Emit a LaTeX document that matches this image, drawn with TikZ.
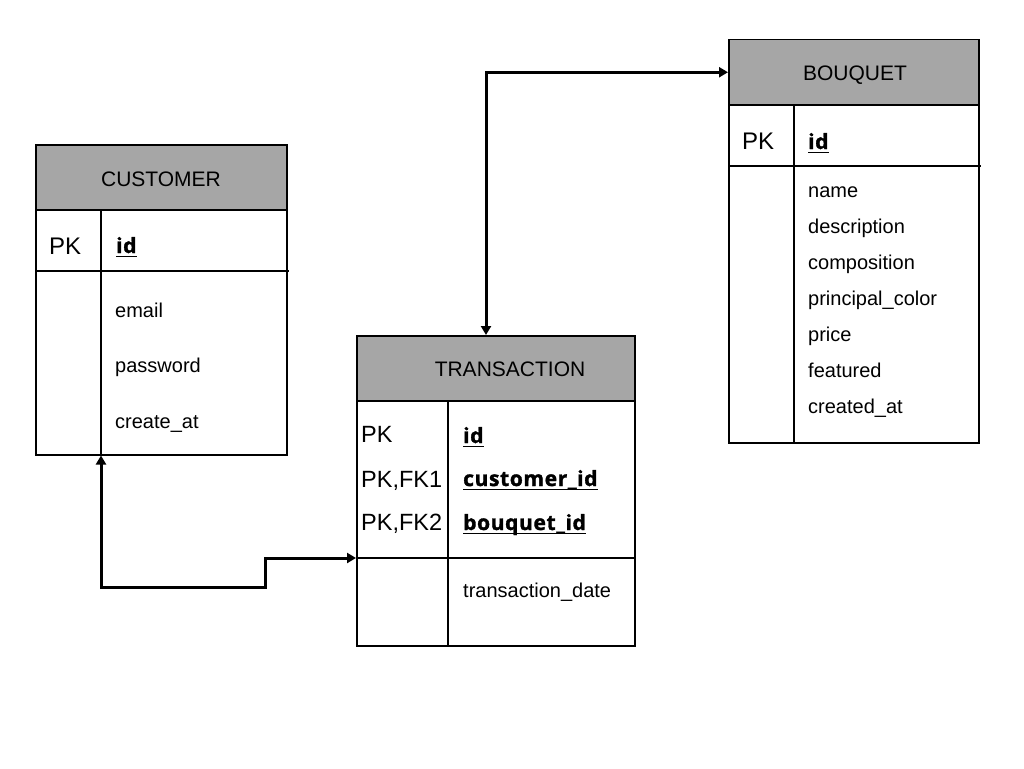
\documentclass[tikz,border=0pt]{standalone}
\usepackage{fontspec}
\setmainfont{Liberation Sans}
\newfontfamily\keyfont[LetterSpace=3, BoldFeatures={FakeBold=1.5}]{Open Sans}
\usetikzlibrary{arrows.meta}
\usetikzlibrary{calc}
\definecolor{headgray}{HTML}{A6A6A6}
\tikzset{
	frame/.style={draw=black, line width=1.5pt},
	tablebox/.style={frame, anchor=north west, inner sep=0pt},
	headbox/.style={tablebox, fill=headgray, minimum height=65pt},
	title/.style={anchor=base, inner sep=0pt, font=\fontsize{21}{25}\selectfont},
	field/.style={anchor=base west, inner sep=0pt, font=\fontsize{20}{24}\selectfont},
	keyfield/.style={anchor=base west, inner sep=0pt, font=\keyfont\bfseries\fontsize{21}{25}\selectfont},
	pkfield/.style={anchor=base west, inner sep=0pt, font=\fontsize{24}{28}\selectfont},
	link/.style={line width=3pt, {Triangle[length=9pt,width=10pt]}-{Triangle[length=9pt,width=10pt]}}
}
\newcommand{\drawKeyLine}[1]{
	\draw[line width=1.6pt] ([yshift=-3.5pt]#1.base west) -- ([yshift=-3.5pt]#1.base east);
}
\newcommand{\drawColumn}[3]{
	\draw[frame] (#1) -- (#2 |- #3);
}

\begin{document}
\begin{tikzpicture}[x=1pt, y=-1pt]
		\useasboundingbox[fill=white] (0,0) rectangle (1024,768);

		% tables
		\node[tablebox, minimum width=251pt, minimum height=310pt] (customer) at (35,144) {};
		\node[headbox, minimum width=251pt] (customerHead) at (customer.north west) {};
		\node[tablebox, minimum width=278pt, minimum height=310pt] (transaction) at (356,335) {};
		\node[headbox, minimum width=278pt] (transactionHead) at (transaction.north west) {};
		\node[tablebox, draw=none, minimum width=278pt, minimum height=155pt] (transKeys) at (transactionHead.south west) {};
		\node[tablebox, minimum width=250pt, minimum height=403pt] (bouquet) at (728,39) {};
		\node[headbox, minimum width=250pt] (bouquetHead) at (bouquet.north west) {};

		% separators
		\coordinate (C_div) at (101,209);
		\coordinate (T_div) at (448,400);
		\coordinate (B_div) at (794,104);
		\drawColumn{C_div}{C_div}{customer.south}
		\drawColumn{T_div}{T_div}{transaction.south}
		\drawColumn{B_div}{B_div}{bouquet.south}
		\draw[frame] (35,271) -- (289,271);
		\draw[frame] (transKeys.south west) -- (transKeys.south east);
		\draw[frame] (728,166) -- (981,166);

		% titles
		\node[title] (customerTitle) at (161,186) {CUSTOMER};
		\node[title] (transactionTitle) at (510,376) {TRANSACTION};
		\node[title] (bouquetTitle) at (855,81) {BOUQUET};

		% customer
		\node[pkfield] (C_pk) at (49,254) {PK};
		\node[keyfield] (C_id) at (116,253) {id};
		\drawKeyLine{C_id}
		\node[field] (C_email) at (115,317) {email};
		\node[field] (C_password) at (115,372) {password};
		\node[field] (C_create) at (115,428) {create\_at};

		% transaction
		\node[pkfield, font=\fontsize{23.5}{28}\selectfont] (T_pk1) at (361,442) {PK};
		\node[pkfield, font=\fontsize{23.5}{28}\selectfont] (T_pk2) at (361,487) {PK,FK1};
		\node[pkfield, font=\fontsize{23.5}{28}\selectfont] (T_pk3) at (361,530) {PK,FK2};
		\node[keyfield] (T_id) at (463,443) {id};
		\node[keyfield] (T_customer) at (463,486) {customer\_id};
		\node[keyfield] (T_bouquet) at (463,530) {bouquet\_id};
		\drawKeyLine{T_id}
		\drawKeyLine{T_customer}
		\drawKeyLine{T_bouquet}
		\node[field] (T_date) at (463,597) {transaction\_date};

		% bouquet
		\node[pkfield] (B_pk) at (742,149) {PK};
		\node[keyfield] (B_id) at (808,149) {id};
		\drawKeyLine{B_id}
		\node[field] (B_name) at (808,197) {name};
		\node[field] (B_desc) at (808,233) {description};
		\node[field] (B_comp) at (808,269) {composition};
		\node[field] (B_color) at (808,305) {principal\_color};
		\node[field] (B_price) at (808,341) {price};
		\node[field] (B_feat) at (808,377) {featured};
		\node[field] (B_created) at (808,413) {created\_at};

		% links
		\coordinate (stepUp) at (265,587);
		\draw[link] ([xshift=130pt]transaction.north west) |- (bouquetHead.west);
		\draw[link] ([xshift=66pt]customer.south west) |- (stepUp) |- (transKeys.south west);

	\end{tikzpicture}
\end{document}
